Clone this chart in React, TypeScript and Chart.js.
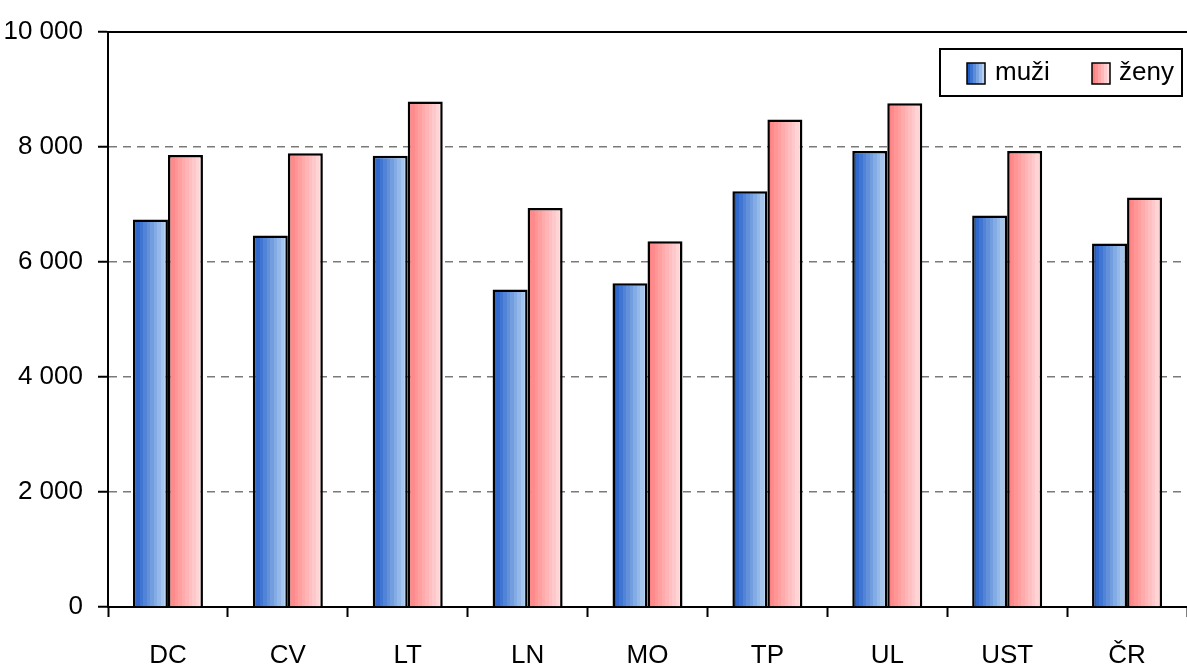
import React, { useEffect, useRef } from 'react';
import { Chart, registerables } from 'chart.js';

Chart.register(...registerables);

const categories = ['DC', 'CV', 'LT', 'LN', 'MO', 'TP', 'UL', 'UST', 'ČR'];
const muzi = [6740, 6460, 7850, 5520, 5630, 7230, 7930, 6810, 6320];
const zeny = [7860, 7890, 8790, 6940, 6360, 8480, 8760, 7930, 7120];
const seriesNames = ['muži', 'ženy'];
const yTickLabels = ['0', '2 000', '4 000', '6 000', '8 000', '10 000'];

const W = 1187;
const H = 669;
const CAT_PCT = 0.584;
const FONT = '"Liberation Sans", Arial, sans-serif';
const FSIZE = 26;

const blueFrom = [30, 92, 200];
const blueTo = [182, 210, 242];
const redFrom = [255, 128, 128];
const redTo = [255, 222, 224];

function mix(a: number[], b: number[], t: number) {
  const c = a.map((v, i) => Math.round(v + (b[i] - v) * t));
  return `rgb(${c[0]},${c[1]},${c[2]})`;
}

function bandGradient(ctx: CanvasRenderingContext2D, x0: number, x1: number, from: number[], to: number[], bands = 10) {
  const g = ctx.createLinearGradient(x0, 0, x1, 0);
  for (let i = 0; i < bands; i++) {
    const col = mix(from, to, i / (bands - 1));
    g.addColorStop(i / bands, col);
    g.addColorStop((i + 1) / bands, col);
  }
  return g;
}

function barFill(c: any) {
  const chart = c.chart;
  const from = c.datasetIndex === 0 ? blueFrom : redFrom;
  const to = c.datasetIndex === 0 ? blueTo : redTo;
  const xs = chart.scales && chart.scales.x;
  if (!chart.chartArea || !xs || c.dataIndex === undefined) return mix(from, to, 0.5);
  const center = xs.getPixelForValue(c.dataIndex);
  const catW = xs.width / categories.length;
  const bw = (catW * CAT_PCT) / 2;
  const left = c.datasetIndex === 0 ? center - bw : center;
  return bandGradient(chart.ctx, left, left + bw, from, to);
}

const framePlugin = {
  id: 'framePlugin',
  afterDraw(chart: any) {
    const { ctx, chartArea } = chart;
    ctx.save();
    ctx.strokeStyle = '#000';
    ctx.lineWidth = 2;
    ctx.setLineDash([]);
    ctx.beginPath();
    ctx.moveTo(chartArea.left, chartArea.top);
    ctx.lineTo(chartArea.right, chartArea.top);
    ctx.stroke();

    const lx = 940, ly = 49, lw = 242, lh = 47;
    ctx.fillStyle = '#fff';
    ctx.fillRect(lx, ly, lw, lh);
    ctx.lineWidth = 2;
    ctx.strokeRect(lx, ly, lw, lh);

    const items = [
      { x: 967, tx: 995, from: blueFrom, to: blueTo, label: seriesNames[0] },
      { x: 1092, tx: 1119, from: redFrom, to: redTo, label: seriesNames[1] },
    ];
    ctx.font = `${FSIZE}px ${FONT}`;
    ctx.textBaseline = 'middle';
    ctx.textAlign = 'left';
    for (const it of items) {
      const sw = 18, sh = 21, sy = 63;
      ctx.fillStyle = bandGradient(ctx, it.x, it.x + sw, it.from, it.to, 6);
      ctx.fillRect(it.x, sy, sw, sh);
      ctx.lineWidth = 1.5;
      ctx.strokeStyle = '#000';
      ctx.strokeRect(it.x, sy, sw, sh);
      ctx.fillStyle = '#000';
      ctx.fillText(it.label, it.tx, 73);
    }
    ctx.restore();
  },
};

export default function App() {
  const ref = useRef<HTMLCanvasElement>(null);
  useEffect(() => {
    if (!ref.current) return;
    const chart = new Chart(ref.current, {
      type: 'bar',
      data: {
        labels: categories,
        datasets: [
          {
            label: seriesNames[0],
            data: muzi,
            backgroundColor: barFill as any,
            borderColor: '#000',
            borderWidth: 2.5,
            categoryPercentage: CAT_PCT,
            barPercentage: 1,
          },
          {
            label: seriesNames[1],
            data: zeny,
            backgroundColor: barFill as any,
            borderColor: '#000',
            borderWidth: 2.5,
            categoryPercentage: CAT_PCT,
            barPercentage: 1,
          },
        ],
      },
      options: {
        responsive: false,
        animation: false,
        devicePixelRatio: 1,
        events: [],
        layout: { padding: { top: 32, right: 0, left: 0, bottom: 0 } },
        plugins: {
          legend: { display: false },
          tooltip: { enabled: false },
          title: { display: false },
        },
        scales: {
          x: {
            grid: {
              display: true,
              drawOnChartArea: false,
              drawTicks: true,
              tickLength: 10,
              tickColor: '#000',
              tickWidth: 2,
              offset: true,
            },
            border: { display: true, color: '#000', width: 2 },
            ticks: {
              color: '#000',
              font: { family: FONT, size: FSIZE },
              padding: 23,
              maxRotation: 0,
              autoSkip: false,
            },
            afterFit: (s: any) => {
              s.height = 62;
            },
          },
          y: {
            min: 0,
            max: 10000,
            ticks: {
              stepSize: 2000,
              color: '#000',
              font: { family: FONT, size: FSIZE },
              padding: 15,
              callback: (_v: any, i: number) => yTickLabels[i],
            },
            grid: {
              color: (c: any) =>
                c.tick && (c.tick.value === 0 || c.tick.value === 10000) ? 'rgba(0,0,0,0)' : '#7a7a7a',
              lineWidth: 1.5,
              tickLength: 10,
              tickColor: '#000',
              tickWidth: 2,
            },
            border: { display: true, color: '#000', width: 2, dash: [8, 6] },
            afterFit: (s: any) => {
              s.width = 108;
            },
          },
        },
      },
      plugins: [framePlugin],
    });
    return () => chart.destroy();
  }, []);
  return (
    <div style={{ position: 'absolute', left: 0, top: 0, width: W, height: H, background: '#fff' }}>
      <canvas ref={ref} width={W} height={H} style={{ display: 'block' }} />
    </div>
  );
}
